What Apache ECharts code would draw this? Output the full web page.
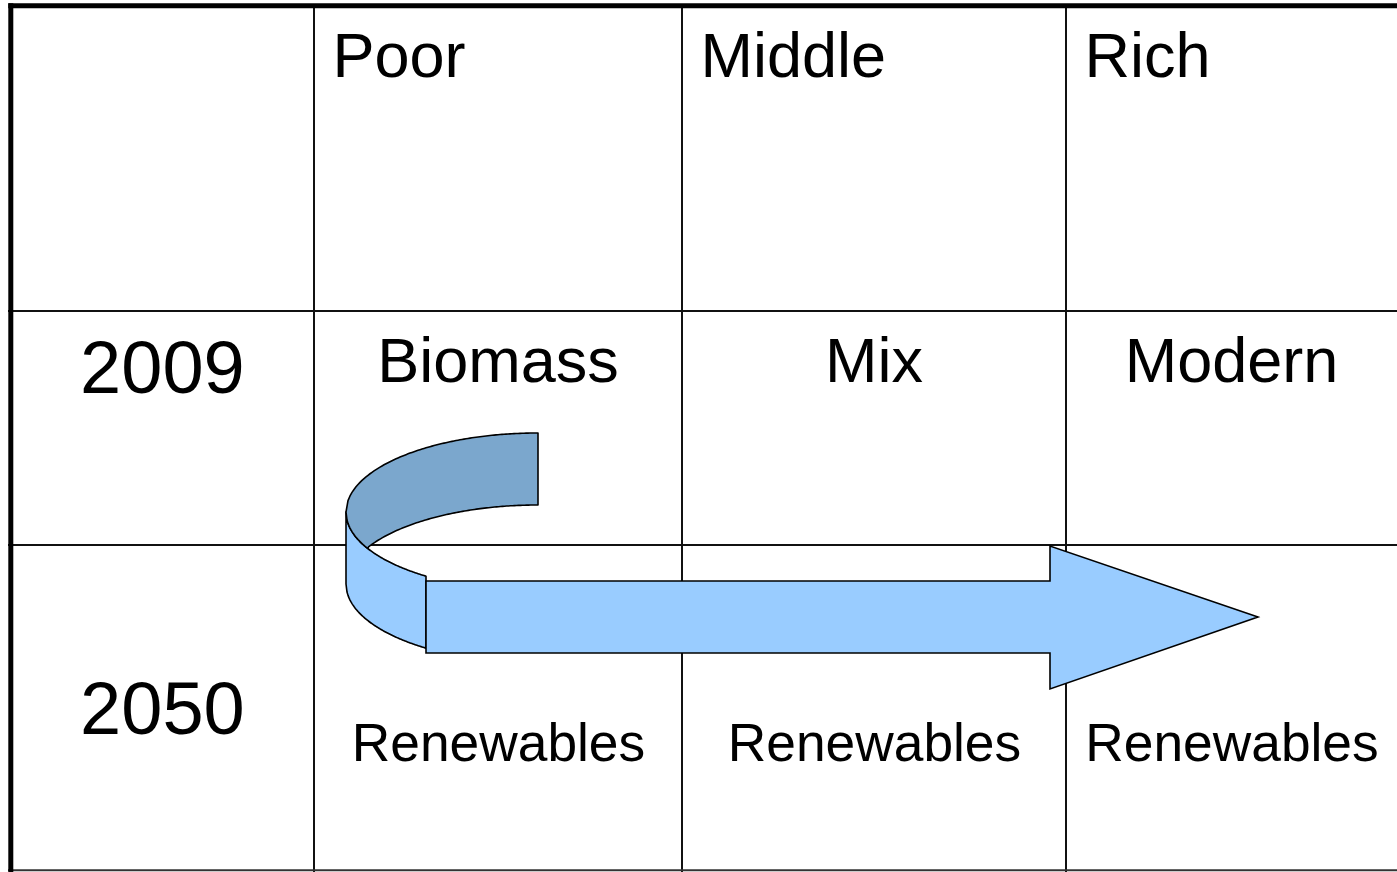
<!DOCTYPE html>
<html>
<head>
<meta charset="utf-8">
<script src="https://cdn.jsdelivr.net/npm/echarts@6/dist/echarts.min.js"></script>
<style>
html,body{margin:0;padding:0;background:#fff;}
#main{width:1397px;height:872px;}
</style>
</head>
<body>
<div id="main"></div>
<script>
// ---- content ----
const columns = ['Poor', 'Middle', 'Rich'];
const rows = ['2009', '2050'];
const row2009 = ['Biomass', 'Mix', 'Modern'];
const row2050 = ['Renewables', 'Renewables', 'Renewables'];

// ---- layout ----
const colEdges = [10.8, 314, 682, 1066, 1397];
const rowEdges = [5.8, 311, 545, 870];
const FONT = '"Liberation Sans", Arial, sans-serif';

const chart = echarts.init(document.getElementById('main'), null, {renderer: 'canvas'});
const els = [];

function line(x1, y1, x2, y2, w, c) {
  els.push({type: 'line', shape: {x1, y1, x2, y2}, style: {stroke: c || '#000', lineWidth: w}, z: 1});
}
// thin grid lines
[1, 2, 3].forEach(i => line(colEdges[i], 4, colEdges[i], 872, 2, '#111'));
line(8, rowEdges[1], 1397, rowEdges[1], 2, '#111');
line(8, rowEdges[2], 1397, rowEdges[2], 2, '#111');
line(8, 870.3, 1397, 870.3, 2, '#333');
// thick borders
line(8.3, rowEdges[0], 1397, rowEdges[0], 5, '#000');
line(colEdges[0], 3.3, colEdges[0], 872, 5, '#000');

function text(str, x, y, size, align) {
  els.push({type: 'text', x, y: y + 0.075 * size, z: 5,
    style: {text: str, font: size + 'px ' + FONT, fill: '#000', align: align, verticalAlign: 'middle'}});
}
// header
columns.forEach((c, i) => text(c, colEdges[i + 1] + 18.5, 55, 63, 'left'));
// row labels
text(rows[0], (colEdges[0] + colEdges[1]) / 2, 367, 74, 'center');
text(rows[1], (colEdges[0] + colEdges[1]) / 2, 708.5, 74, 'center');
row2009.forEach((t, i) => text(t, (colEdges[i + 1] + colEdges[i + 2]) / 2, 360, 63, 'center'));
row2050.forEach((t, i) => text(t, (colEdges[i + 1] + colEdges[i + 2]) / 2 + 0.5, 742, 53.3, 'center'));

// ---- curved arrow (ribbon) ----
const cx = 538, rx = 192, ry = 79, cyA = 512, cyB = 584;
function ey(cy, x, sign) {
  const d = (x - cx) / rx;
  return cy + sign * ry * Math.sqrt(Math.max(0, 1 - d * d));
}
// dark band: upper arc of A from x=538 to 346, lower arc of A from 346 to xi, upper arc of B from xi back to 538
const xi = 368.5;
const dark = [];
for (let x = 538; x >= 346; x -= 2) dark.push([x, ey(cyA, x, -1)]);
dark.push([346, cyA]);
for (let x = 346; x <= xi; x += 1) dark.push([x, ey(cyA, x, 1)]);
for (let x = xi; x <= 538; x += 2) dark.push([x, ey(cyB, x, -1)]);
dark.push([538, ey(cyB, 538, -1)]);
// light part: between lower arcs of A and B from x=346 to 426
const light = [];
for (let x = 346; x <= 426; x += 1) light.push([x, ey(cyA, x, 1)]);
light.push([426, ey(cyA, 426, 1)]);
light.push([426, ey(cyB, 426, 1)]);
for (let x = 426; x >= 346; x -= 1) light.push([x, ey(cyB, x, 1)]);
light.push([346, cyB]);

els.push({type: 'polygon', shape: {points: light}, z: 10,
  style: {fill: '#99CCFF', stroke: '#000', lineWidth: 1.6, lineJoin: 'round'}});
els.push({type: 'polygon', shape: {points: dark}, z: 11,
  style: {fill: '#7BA7CD', stroke: '#000', lineWidth: 1.6, lineJoin: 'round'}});
// straight arrow
els.push({type: 'polygon', z: 12,
  shape: {points: [[426, 581], [1050, 581], [1050, 546], [1258, 617], [1050, 689], [1050, 653], [426, 653]]},
  style: {fill: '#99CCFF', stroke: '#000', lineWidth: 1.6}});

chart.setOption({
  backgroundColor: '#ffffff',
  animation: false,
  graphic: {elements: els}
});
</script>
</body>
</html>
